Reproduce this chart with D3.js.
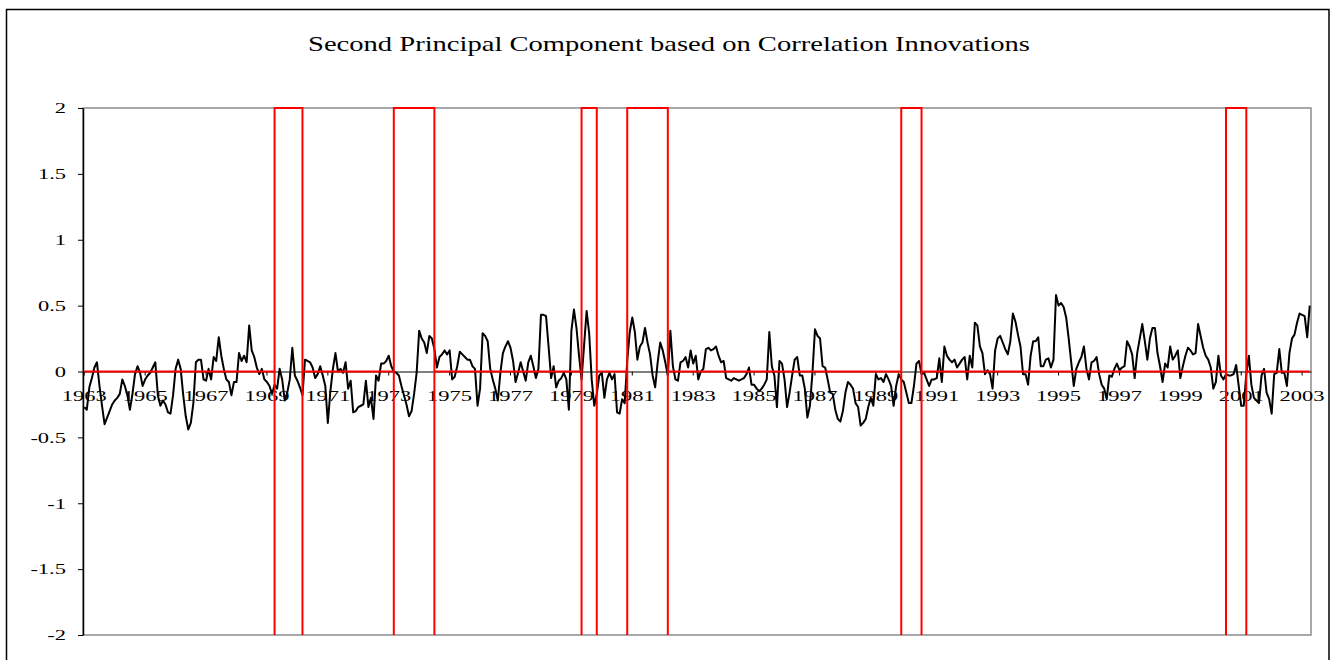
<!doctype html>
<html>
<head>
<meta charset="utf-8">
<script src="https://d3js.org/d3.v7.min.js"></script>
<style>
  body { margin: 0; background: #fff; }
  svg { display: block; font-family: "Liberation Serif", "Times New Roman", serif; }
</style>
</head>
<body>
<svg id="chart" width="1338" height="660"></svg>
<script>
// monthly series, first observation 1963:09
var startMonth = "1963-09";

var pc2 = [
  -0.27, -0.29, -0.12, -0.05,  0.03,  0.07, -0.11, -0.26, -0.40, -0.35, -0.30, -0.25,
  -0.22, -0.20, -0.17, -0.06, -0.11, -0.18, -0.29, -0.17, -0.02,  0.04, -0.01, -0.11,
  -0.06, -0.03, -0.01,  0.03,  0.07, -0.18, -0.26, -0.22, -0.25, -0.31, -0.32, -0.18,
   0.02,  0.09,  0.02, -0.18, -0.34, -0.44, -0.39, -0.24,  0.07,  0.09,  0.09, -0.06,
  -0.07,  0.02, -0.06,  0.11,  0.08,  0.26,  0.12,  0.02, -0.06, -0.08, -0.18, -0.08,
  -0.08,  0.14,  0.08,  0.12,  0.07,  0.35,  0.16,  0.11,  0.03, -0.02,  0.02, -0.06,
  -0.08, -0.11, -0.17, -0.10, -0.13,  0.02, -0.06, -0.22, -0.16, -0.06,  0.18, -0.03,
  -0.07, -0.12, -0.18,  0.09,  0.08,  0.07,  0.03, -0.05, -0.02,  0.04, -0.03, -0.11,
  -0.39, -0.15,  0.02,  0.14,  0.00,  0.02, -0.01,  0.07, -0.13, -0.07, -0.31, -0.30,
  -0.27, -0.26, -0.25, -0.07, -0.27, -0.20, -0.36, -0.03, -0.07,  0.06,  0.06,  0.08,
   0.12,  0.04,  0.00, -0.01, -0.03, -0.11, -0.18, -0.25, -0.34, -0.30, -0.17, -0.01,
   0.31,  0.25,  0.22,  0.14,  0.27,  0.25,  0.17,  0.03,  0.11,  0.13,  0.16,  0.13,
   0.16, -0.06, -0.04,  0.04,  0.15,  0.13,  0.11,  0.09,  0.09,  0.04,  0.02, -0.26,
  -0.13,  0.29,  0.27,  0.23,  0.02, -0.06, -0.13, -0.22, -0.01,  0.14,  0.19,  0.23,
   0.18,  0.08, -0.08, -0.01,  0.07,  0.00, -0.07,  0.07,  0.12,  0.04, -0.05,  0.02,
   0.43,  0.43,  0.42,  0.19, -0.05,  0.04, -0.12, -0.07, -0.05, -0.01, -0.06, -0.29,
   0.31,  0.47,  0.33,  0.12, -0.06,  0.20,  0.46,  0.29, -0.06, -0.26, -0.17, -0.03,
  -0.01, -0.20, -0.06, -0.01, -0.06, -0.02, -0.31, -0.32, -0.21, -0.24,  0.08,  0.30,
   0.41,  0.30,  0.09,  0.19,  0.22,  0.33,  0.22,  0.13, -0.03, -0.12,  0.07,  0.22,
   0.16,  0.07, -0.03,  0.31,  0.04, -0.06, -0.07,  0.07,  0.08,  0.11,  0.03,  0.16,
   0.06,  0.12, -0.06,  0.00,  0.02,  0.17,  0.18,  0.16,  0.17,  0.19,  0.12,  0.07,
   0.08, -0.05, -0.06, -0.07, -0.05, -0.06, -0.07, -0.06, -0.05, -0.02,  0.03, -0.10,
  -0.10, -0.13, -0.15, -0.13, -0.10, -0.06,  0.30,  0.04, -0.03, -0.27,  0.08,  0.06,
  -0.06, -0.27, -0.16, -0.03,  0.09,  0.11, -0.03, -0.03, -0.13, -0.35, -0.26, -0.01,
   0.32,  0.27,  0.25,  0.04,  0.03, -0.06, -0.16, -0.17, -0.29, -0.36, -0.38, -0.30,
  -0.16, -0.08, -0.10, -0.13, -0.24, -0.27, -0.41, -0.39, -0.36, -0.27, -0.20, -0.26,
  -0.02, -0.06, -0.05, -0.08, -0.02, -0.06, -0.11, -0.26, -0.11, -0.02, -0.06, -0.08,
  -0.16, -0.24, -0.24, -0.11,  0.06,  0.08, -0.02, -0.01, -0.06, -0.11, -0.06, -0.06,
  -0.05,  0.10, -0.08,  0.19,  0.12,  0.09,  0.07,  0.09,  0.03,  0.06,  0.09,  0.11,
  -0.06,  0.12,  0.03,  0.37,  0.35,  0.19,  0.14, -0.02,  0.01, -0.02, -0.13,  0.16,
   0.25,  0.27,  0.22,  0.17,  0.13,  0.23,  0.44,  0.38,  0.28,  0.19, -0.02, -0.02,
  -0.10,  0.12,  0.23,  0.23,  0.26,  0.04,  0.04,  0.09,  0.10,  0.03,  0.09,  0.58,
   0.50,  0.52,  0.49,  0.41,  0.25,  0.07, -0.11,  0.02,  0.07,  0.11,  0.19,  0.02,
  -0.06,  0.07,  0.08,  0.11, -0.02, -0.10, -0.13, -0.21, -0.03, -0.04,  0.02,  0.06,
   0.01,  0.03,  0.04,  0.23,  0.19,  0.13, -0.05,  0.14,  0.25,  0.36,  0.23,  0.09,
   0.25,  0.33,  0.33,  0.14,  0.04, -0.08,  0.06,  0.03,  0.19,  0.09,  0.12,  0.16,
  -0.05,  0.04,  0.12,  0.18,  0.16,  0.13,  0.14,  0.36,  0.27,  0.18,  0.12,  0.09,
   0.03, -0.13, -0.08,  0.12, -0.03, -0.06, -0.02, -0.03, -0.03, -0.02,  0.05, -0.11,
  -0.26, -0.26, -0.02,  0.12, -0.10, -0.20, -0.22, -0.24, -0.03,  0.02, -0.16, -0.21,
  -0.32, -0.02, -0.01,  0.17, -0.01, -0.01, -0.11,  0.14,  0.25,  0.28,  0.37,  0.44,
   0.43,  0.42,  0.26,  0.50
];

// recession periods (peak month, trough month)
var recessions = [
  ["1969-12", "1970-11"],
  ["1973-11", "1975-03"],
  ["1980-01", "1980-07"],
  ["1981-07", "1982-11"],
  ["1990-07", "1991-03"],
  ["2001-03", "2001-11"]
];

var yTicks = [-2, -1.5, -1, -0.5, 0, 0.5, 1, 1.5, 2];
var yearLabels = ["1963", "1965", "1967", "1969", "1971", "1973", "1975", "1977", "1979", "1981",
                  "1983", "1985", "1987", "1989", "1991", "1993", "1995", "1997", "1999", "2001", "2003"];
var titleText = "Second Principal Component based on Correlation Innovations";

var svg = d3.select("#chart");
var plot = {left: 83, right: 1311, top: 108, bottom: 635};
var stretch = 1.5; // the original text is drawn wide

var parseMonth = d3.timeParse("%Y-%m");
var start = parseMonth(startMonth);
function monthIndex(s) { return d3.timeMonth.count(start, parseMonth(s)); }

var x = d3.scaleBand()
  .domain(d3.range(pc2.length))
  .range([plot.left, plot.right]);
var xc = function(i) { return x(i) + x.bandwidth() / 2; };

var y = d3.scaleLinear()
  .domain([-2, 2])
  .range([plot.bottom, plot.top]);

function widen(sel) {
  sel.each(function() {
    var w = this.getComputedTextLength();
    d3.select(this).attr("textLength", w * stretch).attr("lengthAdjust", "spacingAndGlyphs");
  });
}

// outer frame
svg.append("rect")
  .attr("x", 6.5).attr("y", 9.5)
  .attr("width", 1322.5).attr("height", 700)
  .attr("fill", "#fff")
  .attr("stroke", "#000")
  .attr("stroke-width", 1.5);

// plot area border
svg.append("rect")
  .attr("x", plot.left).attr("y", plot.top)
  .attr("width", plot.right - plot.left).attr("height", plot.bottom - plot.top)
  .attr("fill", "none")
  .attr("stroke", "#8c8c8c")
  .attr("stroke-width", 1.5);

// title
svg.append("text")
  .attr("x", 669).attr("y", 51)
  .attr("text-anchor", "middle")
  .attr("font-size", 21)
  .attr("textLength", 722)
  .attr("lengthAdjust", "spacingAndGlyphs")
  .text(titleText);

// x axis on the zero line
var xTickIdx = yearLabels.map(function(d, k) { return k * 24; });
var xAxis = d3.axisBottom(x)
  .tickValues(xTickIdx)
  .tickFormat(function(i) { return yearLabels[i / 24]; })
  .tickSizeInner(4)
  .tickSizeOuter(0)
  .tickPadding(15);

var gx = svg.append("g")
  .attr("transform", "translate(0," + y(0) + ")")
  .call(xAxis);
gx.select(".domain").attr("stroke", "#000").attr("stroke-width", 1);
gx.selectAll(".tick line").attr("stroke", "#000");
gx.selectAll(".tick text")
  .attr("font-family", "Liberation Serif, Times New Roman, serif")
  .attr("font-size", 15)
  .attr("fill", "#000")
  .call(widen);

// y axis
var yAxis = d3.axisLeft(y)
  .tickValues(yTicks)
  .tickFormat(function(d) { return String(d); })
  .tickSizeInner(5)
  .tickSizeOuter(0)
  .tickPadding(12);

var gy = svg.append("g")
  .attr("transform", "translate(" + plot.left + ",0)")
  .call(yAxis);
gy.select(".domain").attr("stroke", "#000").attr("stroke-width", 1.5);
gy.selectAll(".tick line").attr("stroke", "#000");
gy.selectAll(".tick text")
  .attr("font-family", "Liberation Serif, Times New Roman, serif")
  .attr("font-size", 15)
  .attr("fill", "#000")
  .call(widen);

// principal component series
var line = d3.line()
  .x(function(d, i) { return xc(i); })
  .y(function(d) { return y(d); });

svg.append("path")
  .datum(pc2)
  .attr("fill", "none")
  .attr("stroke", "#000")
  .attr("stroke-width", 2)
  .attr("stroke-linejoin", "round")
  .attr("d", line);

// recession indicator: 0 outside, top of axis inside, full-height jumps at peaks/troughs
var lo = y.domain()[0], hi = y.domain()[1];
var recIdx = recessions.map(function(r) { return [monthIndex(r[0]), monthIndex(r[1])]; });
var redPts = [];
pc2.forEach(function(v, i) {
  var isStart = recIdx.some(function(r) { return r[0] === i; });
  var isEnd = recIdx.some(function(r) { return r[1] === i; });
  var inside = recIdx.some(function(r) { return i > r[0] && i < r[1]; });
  if (isStart) redPts.push([i, 0], [i, lo], [i, hi]);
  else if (isEnd) redPts.push([i, hi], [i, lo], [i, 0]);
  else redPts.push([i, inside ? hi : 0]);
});

svg.append("path")
  .datum(redPts)
  .attr("fill", "none")
  .attr("stroke", "#ff0000")
  .attr("stroke-width", 2)
  .attr("d", d3.line()
    .x(function(d) { return xc(d[0]); })
    .y(function(d) { return y(d[1]); }));
</script>
</body>
</html>
